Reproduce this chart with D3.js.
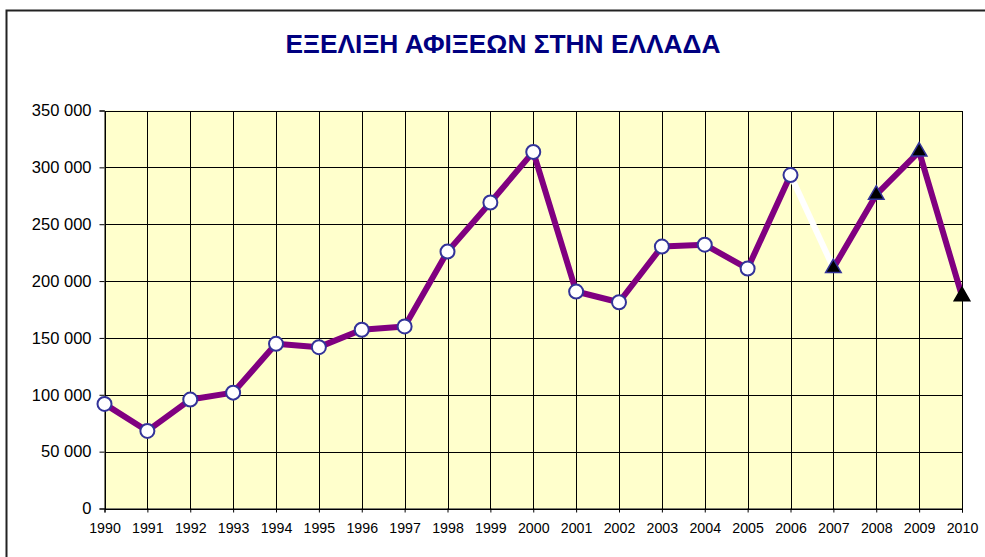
<!DOCTYPE html>
<html>
<head>
<meta charset="utf-8">
<script src="https://cdn.jsdelivr.net/npm/d3@7"></script>
<style>
  html, body { margin: 0; padding: 0; background: #fff; }
  svg { display: block; }
</style>
</head>
<body>
<svg id="chart" width="985" height="557"></svg>
<script>
// Arrivals per year
const years = [1990, 1991, 1992, 1993, 1994, 1995, 1996, 1997, 1998, 1999, 2000,
               2001, 2002, 2003, 2004, 2005, 2006, 2007, 2008, 2009, 2010];
const arrivals = [92000, 68200, 95800, 101900, 144800, 141900, 157200, 160100, 225900, 269100, 313600,
                  190800, 181400, 230300, 232000, 211000, 293200, 211500, 276000, 313900, 186700];
// First year of the second series (triangle markers)
const secondSeriesStart = 2007;
const yTicks = [0, 50000, 100000, 150000, 200000, 250000, 300000, 350000];
const titleText = "ΕΞΕΛΙΞΗ ΑΦΙΞΕΩΝ ΣΤΗΝ ΕΛΛΑΔΑ";

const svg = d3.select("#chart");
const font = "Arial, 'Liberation Sans', sans-serif";

// Outer frame
svg.append("rect")
  .attr("x", 6.5).attr("y", 10.5)
  .attr("width", 1000).attr("height", 600)
  .attr("fill", "#fff").attr("stroke", "#222").attr("stroke-width", 2);

// Title
svg.append("text")
  .attr("x", 503).attr("y", 52.5)
  .attr("text-anchor", "middle")
  .attr("font-family", font).attr("font-weight", "bold")
  .attr("font-size", 25.5)
  .attr("fill", "#000080")
  .attr("textLength", 435).attr("lengthAdjust", "spacingAndGlyphs")
  .text(titleText);

const plot = { left: 104.5, right: 962, top: 110.5, bottom: 508.5 };

const x = d3.scaleLinear().domain([d3.min(years), d3.max(years)]).range([plot.left, plot.right]);
const y = d3.scaleLinear().domain([0, 350000]).range([plot.bottom, plot.top]);

// Plot background
svg.append("rect")
  .attr("x", plot.left).attr("y", plot.top)
  .attr("width", plot.right - plot.left).attr("height", plot.bottom - plot.top)
  .attr("fill", "#FFFFCC");

// Grid
const grid = svg.append("g").attr("stroke", "#000").attr("stroke-width", 1).attr("shape-rendering", "crispEdges");
grid.selectAll("line.v").data(years).join("line")
  .attr("class", "v")
  .attr("x1", d => Math.round(x(d)) + 0.5).attr("x2", d => Math.round(x(d)) + 0.5)
  .attr("y1", plot.top).attr("y2", plot.bottom);
grid.selectAll("line.h").data(yTicks).join("line")
  .attr("class", "h")
  .attr("x1", plot.left).attr("x2", plot.right)
  .attr("y1", d => Math.round(y(d)) + 0.5).attr("y2", d => Math.round(y(d)) + 0.5);

// Axes
const yAxis = d3.axisLeft(y).tickValues(yTicks).tickSize(5).tickPadding(8)
  .tickFormat(d => d3.format(",")(d).replace(/,/g, " "));
const gy = svg.append("g").attr("transform", `translate(${plot.left},0)`).call(yAxis);
gy.select(".domain").attr("stroke", "#000");
gy.selectAll(".tick line").attr("stroke", "#000");
gy.selectAll(".tick text").attr("font-family", font).attr("font-size", 16.5).attr("fill", "#000");

const xAxis = d3.axisBottom(x).tickValues(years).tickSize(4).tickPadding(10).tickFormat(d3.format("d"));
const gx = svg.append("g").attr("transform", `translate(0,${plot.bottom})`).call(xAxis);
gx.select(".domain").attr("stroke", "#000");
gx.selectAll(".tick line").attr("stroke", "#000");
gx.selectAll(".tick text").attr("font-family", font).attr("font-size", 14.2).attr("fill", "#000");

// Series
const data = years.map((yr, i) => ({ year: yr, value: arrivals[i] }));
const first = data.filter(d => d.year < secondSeriesStart);
const second = data.filter(d => d.year >= secondSeriesStart);
const bridge = [first[first.length - 1], second[0]];

const line = d3.line().x(d => x(d.year)).y(d => y(d.value));

svg.append("path").datum(first).attr("d", line)
  .attr("fill", "none").attr("stroke", "#800080").attr("stroke-width", 6).attr("stroke-linejoin", "round");
svg.append("path").datum(bridge).attr("d", line)
  .attr("fill", "none").attr("stroke", "#ffffff").attr("stroke-width", 6);
svg.append("path").datum(second).attr("d", line)
  .attr("fill", "none").attr("stroke", "#800080").attr("stroke-width", 6).attr("stroke-linejoin", "round");

// Markers
svg.append("g").selectAll("circle").data(first).join("circle")
  .attr("cx", d => x(d.year)).attr("cy", d => y(d.value)).attr("r", 7)
  .attr("fill", "#fff").attr("stroke", "#333399").attr("stroke-width", 2);

const tri = d3.symbol().type(d3.symbolTriangle).size(105);
svg.append("g").selectAll("path").data(second).join("path")
  .attr("transform", d => `translate(${x(d.year)},${y(d.value)})`)
  .attr("d", tri)
  .attr("fill", "#000").attr("stroke", (d, i) => i === second.length - 1 ? "#000" : "#333399").attr("stroke-width", 1.5);
</script>
</body>
</html>
